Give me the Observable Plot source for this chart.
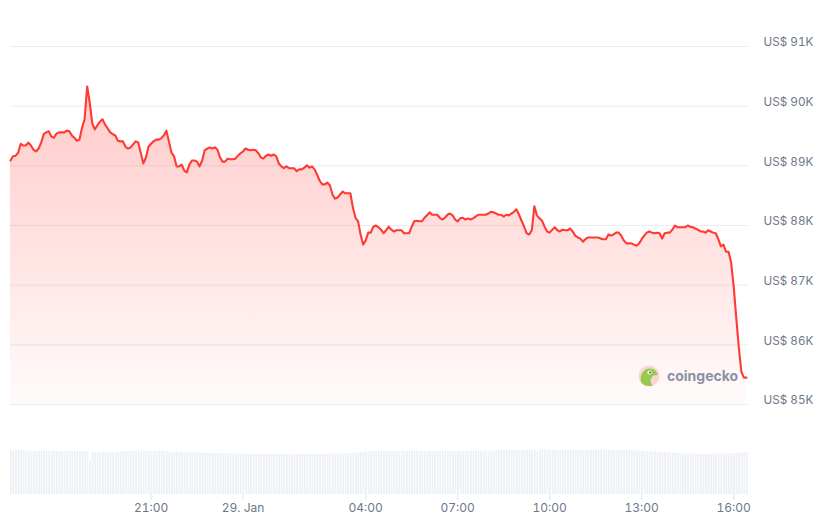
<!DOCTYPE html>
<html><head><meta charset="utf-8">
<script src="https://cdn.jsdelivr.net/npm/d3@7"></script>
<script src="https://cdn.jsdelivr.net/npm/@observablehq/plot@0.6"></script>
<style>
html,body{margin:0;padding:0;background:#fff;}
#chart{position:relative;width:833px;height:524px;overflow:hidden;font-family:Inter,"Noto Sans",sans-serif;}
#chart svg{position:absolute;left:0;}
</style></head><body><div id="chart"></div>
<script>
// ---- data ----
const startTime = "2026-01-28T16:25:00Z";
const stepMinutes = 5;
const domainEnd = "2026-01-29T16:29:00Z";
const prices = [
89090,89160,89170,89220,89370,89340,89340,89390,89340,89270,89240,89290,
89390,89530,89560,89580,89490,89470,89540,89560,89560,89560,89590,89580,
89510,89470,89420,89440,89640,89780,90330,90060,89710,89610,89680,89740,
89780,89690,89630,89560,89530,89510,89420,89410,89410,89320,89290,89310,
89360,89410,89390,89210,89040,89140,89320,89370,89410,89440,89440,89460,
89510,89590,89410,89220,89160,88990,88990,89020,88920,88890,89020,89090,
89090,89070,88990,89090,89260,89290,89310,89290,89310,89270,89140,89070,
89070,89120,89110,89110,89120,89170,89210,89240,89290,89270,89260,89270,
89260,89210,89140,89120,89170,89190,89170,89190,89160,89040,88990,88960,
88990,88960,88960,88960,88910,88940,88940,88970,89010,88970,88990,88940,
88850,88750,88690,88690,88720,88670,88520,88450,88470,88520,88570,88540,
88540,88540,88300,88130,88070,87850,87680,87750,87880,87880,87980,88000,
87970,87930,87870,87920,87980,87930,87900,87920,87920,87920,87870,87870,
87870,87980,88070,88080,88070,88070,88130,88170,88220,88180,88180,88180,
88130,88100,88130,88180,88200,88170,88100,88070,88120,88130,88100,88120,
88100,88120,88150,88180,88180,88180,88180,88200,88230,88220,88200,88180,
88180,88150,88180,88170,88200,88230,88270,88180,88080,87980,87870,87850,
87920,88320,88170,88120,88080,87980,87900,87880,87930,87970,87920,87900,
87930,87920,87920,87950,87900,87830,87800,87780,87730,87770,87800,87800,
87800,87800,87800,87780,87770,87770,87850,87830,87850,87880,87880,87830,
87750,87700,87700,87700,87680,87660,87700,87770,87830,87880,87900,87880,
87870,87880,87870,87780,87870,87880,87880,87930,88000,87970,87970,87970,
87970,88000,87980,87970,87950,87930,87900,87900,87880,87920,87900,87880,
87870,87770,87650,87680,87560,87560,87380,86980,86460,85960,85550,85450,
85450
];
// 24h volume (US$ billions)
const volumes = [
44,43.6,44,43.8,44,43.5,43.7,43.9,
43,42.8,43.1,43,42.9,43.2,43,42.7,43,43.1,42.9,43,42.8,43,43.2,43,42.9,42.6,42.8,43,42.9,42.8,43,
33.5,
42.2,42,42.1,41.9,42,42.2,42,41.8,42,42.1,42.3,42.5,42.7,42.9,43,43.1,43.2,
43.4,43.3,43.5,43.3,43.2,43.4,43.3,43.1,43.3,43.2,43,42.9,42.6,
42.4,42.3,42.2,42.4,42.3,42.2,42,42.3,42.1,42.2,41.9,41.7,41.5,
41.3,41.1,41,41.2,41,40.9,41.1,41,40.8,41,41.1,40.9,40.8,40.7,40.6,40.5,40.4,
40.2,40.1,40,40.2,40,39.9,40.1,40,39.8,40,40.1,39.9,40,40.2,40,39.9,40,40.1,39.8,40,40,39.9,40.1,40,39.8,39.9,40,40.1,40,39.9,40,40.2,40.1,40.3,40.4,
40.6,40.7,40.8,40.6,40.7,40.9,41,41.2,41.5,41.8,42.1,42.4,42.7,
43,42.9,43.1,43,43,42.8,43,43.1,42.9,43,43,42.8,43,43.1,43,42.9,43,43.1,43,42.9,43,
43,42.9,43,43.1,43,42.8,43,43,42.9,43.1,43,43,42.9,43,43.1,43,42.9,43,43,43.1,43,42.9,43,43.2,43.4,43.5,43.6,43.5,43.7,43.8,43.9,43.9,
44,44.1,43.9,44,44.2,44,43.9,44.1,44,44.2,44,43.8,44,
42,
44.2,
45,45.1,44.9,
44.3,44.2,44,44.1,44,44.2,44,43.9,44.1,44,44,44.2,44,43.9,44,44.1,44,44,43.9,44.1,44,44.2,44,43.9,44,44.1,44,43.8,43.9,44,44.1,43.9,43.8,43.7,43.6,43.5,43.3,
43.1,42.9,42.8,42.6,42.7,42.5,42.4,42.2,42.3,42,41.8,41.5,41.2,
41,40.8,40.6,40.4,40.5,40.3,40.2,40.4,40.3,40.1,40.2,40.3,40.1,40.2,40.4,40.3,40.2,40.3,40.5,40.4,40.6,
40.8,41,41.2,41.4,41.6,41.8,42
];
const yTicks = [85000, 86000, 87000, 88000, 89000, 90000, 91000];
const xTickTimes = ["2026-01-28T21:00:00Z","2026-01-29T00:00:00Z","2026-01-29T04:00:00Z","2026-01-29T07:00:00Z","2026-01-29T10:00:00Z","2026-01-29T13:00:00Z","2026-01-29T16:00:00Z"];
const xTickLabels = ["21:00","29. Jan","04:00","07:00","10:00","13:00","16:00"];
const brand = "coingecko";

// ---- build ----
const t0 = new Date(startTime);
const step = stepMinutes * 60000;
const data = prices.map((p, i) => ({t: new Date(+t0 + i * step), p}));
const vdata = volumes.slice(0, prices.length).map((v, i) => ({t1: new Date(+t0 + i * step), t2: new Date(+t0 + (i + 1) * step), v}));
const xDomain = [t0, new Date(domainEnd)];
const yDomain = [yTicks[0], yTicks[yTicks.length - 1]];
const xTickDates = xTickTimes.map(s => new Date(s));
const labelByTime = new Map(xTickDates.map((d, i) => [+d, xTickLabels[i]]));

const W = 833, ML = 10, MR = 85;
const font = "Inter, 'Noto Sans', sans-serif";
const gray = "#6e7889";

const topPlot = Plot.plot({
  width: W, height: 430, marginLeft: ML, marginRight: MR, marginTop: 46, marginBottom: 26,
  style: {fontFamily: font, fontSize: "12px", background: "transparent", overflow: "visible"},
  x: {type: "utc", domain: xDomain, axis: null},
  y: {domain: yDomain, axis: null},
  marks: [
    Plot.ruleY(yTicks, {stroke: "#e9ecf0", strokeWidth: 1}),
    Plot.areaY(data, {x: "t", y1: () => yDomain[0], y2: "p", fill: "url(#priceFill)"}),
    Plot.lineY(data, {x: "t", y: "p", stroke: "#ff3a33", strokeWidth: 2.1, strokeLinejoin: "round"}),
    Plot.axisY(yTicks, {anchor: "right", label: null, tickSize: 0, tickPadding: 15, dy: -4, fill: gray, fontSize: 11.7,
      tickFormat: d => `US$ ${d / 1000}K`})
  ]
});
d3.select(topPlot).insert("defs", ":first-child").html(
  `<linearGradient id="priceFill" x1="0" y1="0" x2="0" y2="1">
     <stop offset="0" stop-color="#ff3a33" stop-opacity="0.27"/>
     <stop offset="0.6" stop-color="#ff3a33" stop-opacity="0.12"/>
     <stop offset="1" stop-color="#ff3a33" stop-opacity="0.02"/>
   </linearGradient>`);

// watermark
const wm = d3.select(topPlot).append("g").attr("transform", "translate(649,376)").attr("opacity", 0.9);
wm.append("circle").attr("r", 10.5).attr("fill", "#fbd3cc");
wm.append("path").attr("d", "M-8,6 C-9.5,0 -6,-7.5 1,-7.5 C6,-7.5 8.5,-4 8.5,-1 C5,-1 3,0 2,2.5 C1,5.5 2,8 3.5,9.8 C-2,10.5 -6,9 -8,6 Z").attr("fill", "#8dc63f");
wm.append("circle").attr("cx", 0.5).attr("cy", -3.5).attr("r", 2.1).attr("fill", "#fff");
wm.append("circle").attr("cx", 1).attr("cy", -3.5).attr("r", 1).attr("fill", "#4b4b4b");
d3.select(topPlot).append("text").attr("x", 667).attr("y", 376).attr("dy", "0.35em")
  .attr("text-anchor", "start")
  .attr("font-family", font).attr("font-weight", 700).attr("font-size", 14)
  .attr("fill", "#8a92a2").text(brand);

const bottomPlot = Plot.plot({
  width: W, height: 94, marginLeft: ML, marginRight: MR, marginTop: 19, marginBottom: 30,
  style: {fontFamily: font, fontSize: "12px", background: "transparent"},
  x: {type: "utc", domain: xDomain, axis: null},
  y: {domain: [0, 45], axis: null},
  marks: [
    Plot.rectY(vdata, {x1: "t1", x2: "t2", y: "v", fill: "#edf0f4", insetRight: 0.8}),
    Plot.axisX(xTickDates, {anchor: "bottom", label: null, tickSize: 6, tickPadding: 3, stroke: "#dfe3e8", fill: gray, fontSize: 12,
      tickFormat: d => labelByTime.get(+d)})
  ]
});

const chart = document.getElementById("chart");
topPlot.style.top = "0px";
bottomPlot.style.top = "430px";
chart.appendChild(topPlot);
chart.appendChild(bottomPlot);
</script></body></html>
